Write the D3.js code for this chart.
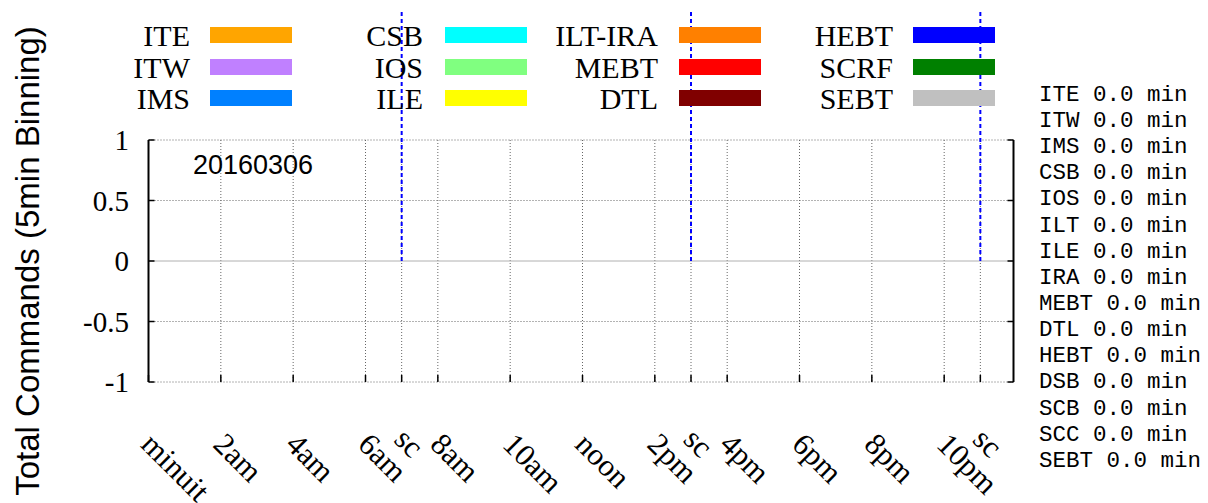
<!DOCTYPE html>
<html>
<head>
<meta charset="utf-8">
<script src="https://cdn.jsdelivr.net/npm/d3@7"></script>
<style>
html,body{margin:0;padding:0;background:#fff;}
svg{display:block;}
</style>
</head>
<body>
<svg id="chart" width="1208" height="503"></svg>
<script>
// ---- data ----
const dateLabel = "20160306";
const yTitle = "Total Commands (5min Binning)";
const legendNames = ["ITE","ITW","IMS","CSB","IOS","ILE","ILT-IRA","MEBT","DTL","HEBT","SCRF","SEBT"];
const legendColors = ["#ffa500","#c080ff","#0080ff","#00ffff","#80ff80","#ffff00","#ff8000","#ff0000","#800000","#0000ff","#008000","#c0c0c0"];
const summaryNames = ["ITE","ITW","IMS","CSB","IOS","ILT","ILE","IRA","MEBT","DTL","HEBT","DSB","SCB","SCC","SEBT"];
const summaryMinutes = [0,0,0,0,0,0,0,0,0,0,0,0,0,0,0];
const tickHours = [0,2,4,6,8,10,12,14,16,18,20,22];
const tickLabels = ["minuit","2am","4am","6am","8am","10am","noon","2pm","4pm","6pm","8pm","10pm"];
const scHours = [7,15,23];
const scLabel = "sc";
const yTicks = [-1,-0.5,0,0.5,1];
const yTickLabels = ["-1","-0.5","0","0.5","1"];
// command counts per 5-minute bin (hour, series, count) — none recorded this day
const commandBins = [];

(function(){
// ---- layout ----
const svg = d3.select("#chart");
const pl = 148.5, pr = 1013.5, pt = 140, pb = 382;
const x = d3.scaleLinear().domain([0, 23 + 55/60]).range([pl, pr]);
const y = d3.scaleLinear().domain([-1, 1]).range([pb, pt]);
const color = d3.scaleOrdinal().domain(legendNames).range(legendColors);

const g = svg.append("g");
const allX = tickHours.concat(scHours);
g.selectAll("line.vg").data(allX).enter().append("line")
  .attr("x1", d => x(d)).attr("x2", d => x(d))
  .attr("y1", pt).attr("y2", pb)
  .attr("stroke", "#666").attr("stroke-width", 1).attr("stroke-dasharray", "1,2");
g.selectAll("line.hg").data(yTicks.filter(d => d !== 0)).enter().append("line")
  .attr("x1", pl).attr("x2", pr)
  .attr("y1", d => y(d)).attr("y2", d => y(d))
  .attr("stroke", "#666").attr("stroke-width", 1).attr("stroke-dasharray", "1,2");
g.append("line").attr("x1", pl).attr("x2", pr).attr("y1", y(0)).attr("y2", y(0))
  .attr("stroke", "#b0b0b0").attr("stroke-width", 1);

g.selectAll("rect.bar").data(commandBins).enter().append("rect")
  .attr("x", d => x(d.hour)).attr("width", x(5/60) - x(0))
  .attr("y", d => y(d.count)).attr("height", d => y(0) - y(d.count))
  .attr("fill", d => color(d.series));

g.selectAll("line.sc").data(scHours).enter().append("line")
  .attr("x1", d => x(d)).attr("x2", d => x(d))
  .attr("y1", 12).attr("y2", y(0))
  .attr("stroke", "#0000ff").attr("stroke-width", 2).attr("stroke-dasharray", "4,3");

g.append("line").attr("x1", pl).attr("x2", pl).attr("y1", pt).attr("y2", pb).attr("stroke", "#000").attr("stroke-width", 2);
g.append("line").attr("x1", pr).attr("x2", pr).attr("y1", pt).attr("y2", pb).attr("stroke", "#000").attr("stroke-width", 2);

g.selectAll("line.ytl").data(yTicks).enter().append("line")
  .attr("x1", pl).attr("x2", pl + 6).attr("y1", d => y(d)).attr("y2", d => y(d))
  .attr("stroke", "#000").attr("stroke-width", 1.5);
g.selectAll("line.ytr").data(yTicks).enter().append("line")
  .attr("x1", pr - 6).attr("x2", pr).attr("y1", d => y(d)).attr("y2", d => y(d))
  .attr("stroke", "#000").attr("stroke-width", 1.5);
g.selectAll("line.xt").data(allX).enter().append("line")
  .attr("x1", d => x(d)).attr("x2", d => x(d)).attr("y1", pb).attr("y2", pb - 7)
  .attr("stroke", "#000").attr("stroke-width", 1.5);

svg.selectAll("text.yl").data(yTicks).enter().append("text")
  .attr("x", 129).attr("y", d => y(d)).attr("dy", "0.35em")
  .attr("text-anchor", "end")
  .style("font-family", "'Liberation Serif', serif").style("font-size", "29px")
  .text((d, i) => yTickLabels[i]);

const xlab = tickHours.map((h, i) => ({h, t: tickLabels[i]})).concat(scHours.map(h => ({h, t: scLabel})));
svg.selectAll("text.xl").data(xlab).enter().append("text")
  .attr("transform", d => `translate(${x(d.h) - 9},${d.t === scLabel ? 441 : 446}) rotate(45)`)
  .attr("text-anchor", "start")
  .style("font-family", "'Liberation Serif', serif").style("font-size", "31px")
  .text(d => d.t);

svg.append("text")
  .attr("transform", `translate(27,${(pt + pb) / 2}) rotate(-90)`)
  .attr("text-anchor", "middle").attr("dy", "0.35em")
  .style("font-family", "'Liberation Sans', sans-serif").style("font-size", "33px")
  .text(yTitle);

svg.append("text").attr("x", 193).attr("y", 165).attr("dy", "0.35em")
  .style("font-family", "'Liberation Sans', sans-serif").style("font-size", "27px")
  .text(dateLabel);

const colLabelRight = [190, 423, 658, 893];
const colSwatch = [210, 445, 679, 913];
const rowCenter = [35, 67, 98];
const leg = svg.append("g");
legendNames.forEach((n, i) => {
  const c = Math.floor(i / 3), r = i % 3;
  leg.append("text").attr("x", colLabelRight[c]).attr("y", rowCenter[r]).attr("dy", "0.35em")
    .attr("text-anchor", "end")
    .style("font-family", "'Liberation Serif', serif").style("font-size", "30px")
    .text(n);
  leg.append("rect").attr("x", colSwatch[c]).attr("y", rowCenter[r] - 8)
    .attr("width", 82).attr("height", 16).attr("fill", color(n));
});

svg.selectAll("text.sum").data(summaryNames).enter().append("text")
  .attr("x", 1039).attr("y", (d, i) => 93 + i * 26.14).attr("dy", "0.35em")
  .style("font-family", "'Liberation Mono', monospace").style("font-size", "22.5px")
  .style("font-weight", "300")
  .text((d, i) => `${d} ${summaryMinutes[i].toFixed(1)} min`);
})();
</script>
</body>
</html>
